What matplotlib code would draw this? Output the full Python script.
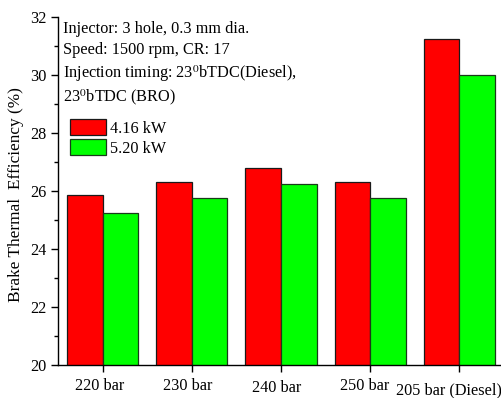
import matplotlib
matplotlib.use("Agg")
import matplotlib.pyplot as plt
import numpy as np

categories = ["220 bar", "230 bar", "240 bar", "250 bar", "205 bar (Diesel)"]
series_names = ["4.16 kW", "5.20 kW"]
bte_416 = [25.87, 26.3, 26.8, 26.3, 31.25]
bte_520 = [25.25, 25.75, 26.25, 25.75, 30.0]
colors = ["#ff0000", "#00ff00"]

plt.rcParams['font.family'] = ['Liberation Serif', 'DejaVu Serif']
plt.rcParams['mathtext.fontset'] = 'stix'

FS = 11.7
fig = plt.figure(figsize=(5.02, 3.98), dpi=100)
ax = fig.add_axes([58/502, 1-365/398, (504-58)/502, (365-17)/398])

x = np.arange(len(categories))
w = 0.4
ax.bar(x - w/2, bte_416, w, color=colors[0], edgecolor="#1a1a1a", linewidth=0.9, label=series_names[0])
ax.bar(x + w/2, bte_520, w, color=colors[1], edgecolor="#1a3a1a", linewidth=0.9, label=series_names[1])

ax.set_ylim(20, 32)
ax.set_xlim(-0.5, 4.5)
ax.set_yticks([20, 22, 24, 26, 28, 30, 32])
ax.set_yticks(np.arange(21, 32, 2), minor=True)
ax.set_xticks(x)
ax.set_xticklabels([])
# category labels placed individually (slight offsets as in the original)
dx = [-2.5, -4.5, -4.5, -6, -10.5]
dy = [-21, -21, -23.5, -21.5, -25]
for i, cat in enumerate(categories):
    ax.annotate(cat, xy=(x[i], 0), xycoords=('data', 'axes fraction'),
                xytext=(dx[i], dy[i]), textcoords='offset pixels',
                ha='center', va='center', fontsize=FS, annotation_clip=False)
ax.tick_params(axis='y', labelsize=FS, direction='out', length=5, width=1, pad=3)
ax.tick_params(axis='y', which='minor', length=3, width=1)
ax.tick_params(axis='x', direction='out', length=5, width=1)
ax.spines['top'].set_visible(False)
ax.spines['right'].set_visible(False)
ax.spines['left'].set_linewidth(1)
ax.spines['bottom'].set_linewidth(1)
fig.text(16/502, 1-195/398, "Brake Thermal  Efficiency (%)", fontsize=12.4,
         rotation=90, ha='center', va='center')

ann = ["Injector: 3 hole, 0.3 mm dia.",
       "Speed: 1500 rpm, CR: 17",
       r"Injection timing: 23$^{0}$bTDC(Diesel),",
       r"23$^{0}$bTDC (BRO)"]
ys = [29, 50, 74, 97]
for t, yy in zip(ann, ys):
    fig.text(63/502, 1-yy/398, t, fontsize=FS, va='center', ha='left')

leg = ax.legend(loc='upper left', bbox_to_anchor=(0.027, 0.707), frameon=False,
                fontsize=FS, handlelength=2.2, handleheight=1.15, handletextpad=0.25,
                labelspacing=0.15, borderpad=0, borderaxespad=0)

fig.savefig("out.png", dpi=100)
